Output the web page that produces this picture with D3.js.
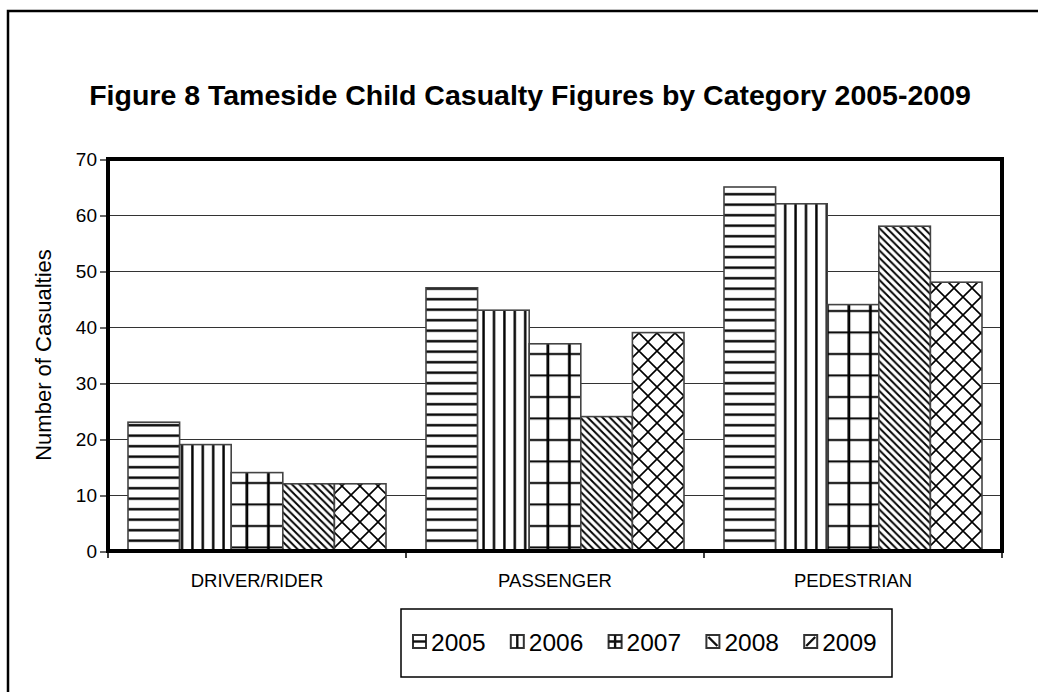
<!DOCTYPE html>
<html><head><meta charset="utf-8">
<script src="https://cdn.jsdelivr.net/npm/d3@7"></script>
<style>html,body{margin:0;padding:0;background:#fff;}svg{display:block;font-family:"Liberation Sans",Arial,sans-serif;}</style>
</head><body>
<svg id="c" width="1038" height="692"></svg>
<script>
const categories = ["DRIVER/RIDER", "PASSENGER", "PEDESTRIAN"];
const years = ["2005", "2006", "2007", "2008", "2009"];
const v2005 = [23, 47, 65];
const v2006 = [19, 43, 62];
const v2007 = [14, 37, 44];
const v2008 = [12, 24, 58];
const v2009 = [12, 39, 48];
const seriesValues = [v2005, v2006, v2007, v2008, v2009];
const yTicks = [0, 10, 20, 30, 40, 50, 60, 70];
const titleText = "Figure 8 Tameside Child Casualty Figures by Category 2005-2009";
const yAxisTitle = "Number of Casualties";

const FONT = "Liberation Sans, Arial, sans-serif";
const svg = d3.select("#c");
const W = 1038, H = 692;
svg.append("rect").attr("width", W).attr("height", H).attr("fill", "#fff");
// outer frame
svg.append("rect").attr("x", 8).attr("y", 11).attr("width", 1100).attr("height", 800)
  .attr("fill", "none").attr("stroke", "#000").attr("stroke-width", 2.5);

const defs = svg.append("defs");
function pat(id, size, draw) {
  const p = defs.append("pattern").attr("id", id).attr("patternUnits", "userSpaceOnUse")
    .attr("width", size).attr("height", size);
  p.append("rect").attr("width", size).attr("height", size).attr("fill", "#fff");
  draw(p, size);
}
pat("p0", 10.5, (p, s) => p.append("rect").attr("x", 0).attr("y", 4).attr("width", s).attr("height", 2.4).attr("fill", "#000"));
pat("p1", 10.4, (p, s) => p.append("rect").attr("x", 4).attr("y", 0).attr("width", 2.4).attr("height", s).attr("fill", "#000"));
pat("p2", 21.5, (p, s) => {
  p.append("rect").attr("x", 9).attr("y", 0).attr("width", 2.8).attr("height", s).attr("fill", "#000");
  p.append("rect").attr("x", 0).attr("y", 9).attr("width", s).attr("height", 2).attr("fill", "#000");
});
pat("p3", 7.4, (p, s) => {
  p.append("path").attr("d", `M0,0L${s},${s}M${-s},0L${s},${2*s}M0,${-s}L${2*s},${s}`)
    .attr("stroke", "#000").attr("stroke-width", 1.9);
});
pat("p4", 18, (p, s) => {
  p.append("path").attr("d", `M0,0L${s},${s}M${s},0L0,${s}`)
    .attr("stroke", "#000").attr("stroke-width", 1.6);
});
const fills = ["url(#p0)", "url(#p1)", "url(#p2)", "url(#p3)", "url(#p4)"];

const L = 108, R = 1002, T = 159, B = 551;
const x0 = d3.scaleBand().domain(categories).range([L, R]).paddingInner(0).paddingOuter(0);
const x1 = d3.scaleBand().domain(years).range([20, x0.bandwidth() - 20]);
const y = d3.scaleLinear().domain([0, 70]).range([B, T]);

// title
svg.append("text").attr("x", 530).attr("y", 105).attr("text-anchor", "middle")
  .attr("font-size", 28.5).attr("font-weight", "bold").text(titleText);

// gridlines
svg.append("g").selectAll("line").data(yTicks.filter(t => t > 0 && t < 70)).join("line")
  .attr("x1", L).attr("x2", R).attr("y1", d => y(d) + 0.5).attr("y2", d => y(d) + 0.5)
  .attr("stroke", "#333").attr("stroke-width", 1);

// bars
const gs = svg.append("g").selectAll("g").data(years).join("g");
gs.each(function(yr, si) {
  d3.select(this).selectAll("rect").data(categories.map((c, ci) => ({c, v: seriesValues[si][ci]}))).join("rect")
    .attr("x", d => x0(d.c) + x1(yr)).attr("width", x1.bandwidth())
    .attr("y", d => y(d.v)).attr("height", d => y(0) - y(d.v))
    .attr("fill", fills[si]).attr("stroke", "#444").attr("stroke-width", 1.6);
});

// plot border
svg.append("rect").attr("x", L).attr("y", T).attr("width", R - L).attr("height", B - T)
  .attr("fill", "none").attr("stroke", "#000").attr("stroke-width", 4);

// y axis
const yAxis = d3.axisLeft(y).tickValues(yTicks).tickSize(7).tickPadding(3);
const ya = svg.append("g").attr("transform", `translate(${L - 1},0.5)`).call(yAxis);
ya.select(".domain").remove();
ya.selectAll("line").attr("stroke", "#000").attr("stroke-width", 1.2);
ya.selectAll("text").attr("font-size", 19).attr("fill", "#000").attr("font-family", FONT);

// x axis
const xAxis = d3.axisBottom(x0).tickSize(0).tickPadding(0);
const xa = svg.append("g").attr("transform", `translate(0,${B})`).call(xAxis);
xa.select(".domain").remove();
xa.selectAll("text").attr("font-size", 18.5).attr("fill", "#000").attr("dy", 0).attr("y", 36)
  .attr("font-family", FONT);
// x ticks at band boundaries
const bounds = categories.map(c => x0(c)).concat([R]);
svg.append("g").selectAll("line").data(bounds).join("line")
  .attr("x1", d => d).attr("x2", d => d).attr("y1", B).attr("y2", B + 7)
  .attr("stroke", "#000").attr("stroke-width", 1.5);

// y title
svg.append("text").attr("transform", `translate(51,${(T + B) / 2}) rotate(-90)`)
  .attr("text-anchor", "middle").attr("font-size", 22).text(yAxisTitle);

// legend
svg.append("rect").attr("x", 401).attr("y", 609).attr("width", 491).attr("height", 68)
  .attr("fill", "#fff").attr("stroke", "#000").attr("stroke-width", 1.5);
const lg = svg.append("g").selectAll("g").data(years).join("g")
  .attr("transform", (d, i) => `translate(${413 + i * 97.8},635)`);
const sw = 13, sh = 13;
lg.append("rect").attr("x", 0).attr("y", 0).attr("width", sw).attr("height", sh)
  .attr("fill", "#fff").attr("stroke", "#333").attr("stroke-width", 2);
// mini patterns inside swatches
const mini = [
  `M0,${sh/2}H${sw}`,
  `M${sw/2},0V${sh}`,
  `M${sw/2},0V${sh}M0,${sh/2}H${sw}`,
  `M2,2L${sw-2},${sh-2}`,
  `M2,${sh-2}L${sw-2},2`
];
lg.append("path").attr("d", (d, i) => mini[i]).attr("stroke", "#111").attr("stroke-width", 2.4).attr("fill", "none");
lg.append("text").attr("x", 18).attr("y", 16).attr("font-size", 24.5).text(d => d);
</script>
</body></html>
